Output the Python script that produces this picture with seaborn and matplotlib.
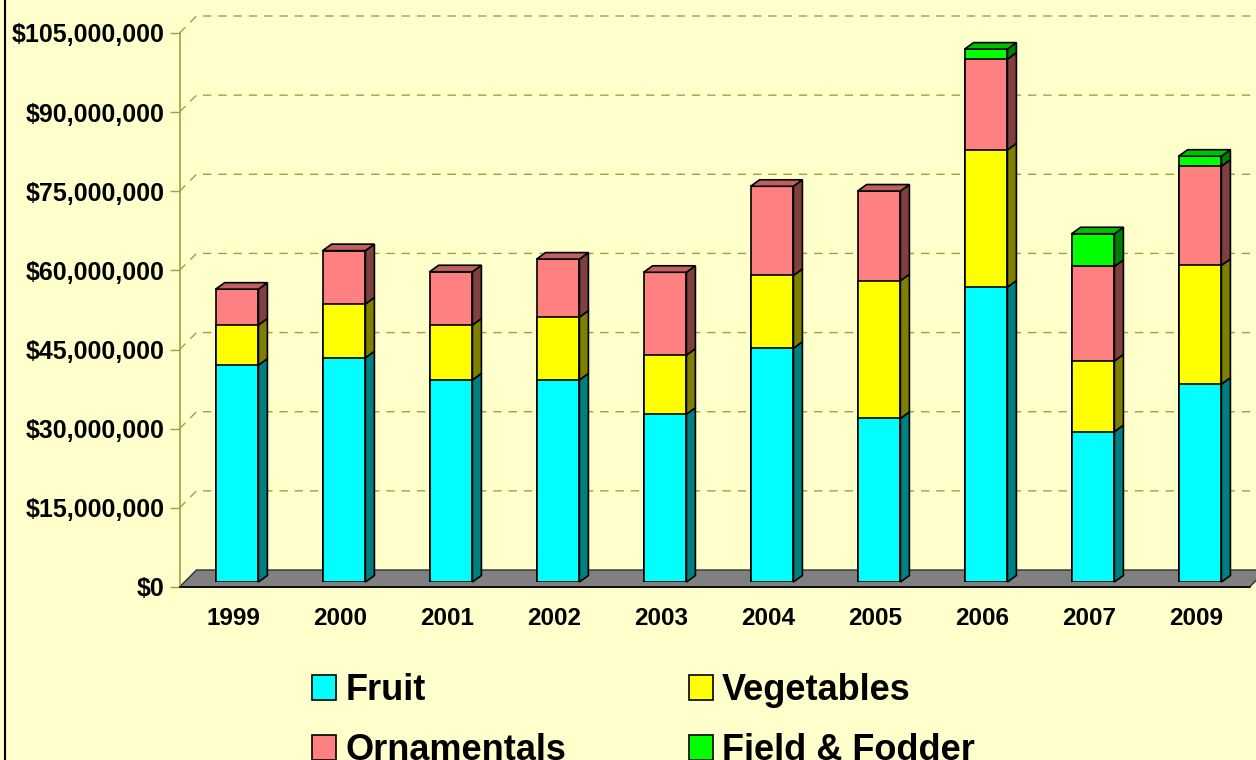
import numpy as np
import pandas as pd
import matplotlib.pyplot as plt
import seaborn as sns
from matplotlib.patches import Polygon, Patch
from matplotlib.lines import Line2D

# values in millions of dollars
years = ['1999', '2000', '2001', '2002', '2003', '2004', '2005', '2006', '2007', '2009']
fruit = [41.1, 42.5, 38.3, 38.3, 31.8, 44.3, 31.0, 55.9, 28.5, 37.5]
vegetables = [7.6, 10.2, 10.4, 11.9, 11.2, 13.8, 26.1, 26.0, 13.4, 22.5]
ornamentals = [6.8, 10.1, 10.1, 11.0, 15.7, 16.9, 17.0, 17.2, 17.9, 18.8]
field_fodder = [0, 0, 0, 0, 0, 0, 0, 1.9, 6.2, 1.9]
series = ['Fruit', 'Vegetables', 'Ornamentals', 'Field & Fodder']
y_ticks = np.arange(0, 106, 15)

front_colors = ['#00FFFF', '#FFFF00', '#FF8080', '#00FF00']
side_colors = ['#008080', '#808000', '#804040', '#008000']
top_colors = ['#00C0C0', '#C0C000', '#C06060', '#00C000']
bg = '#FFFFCC'
grid_col = '#A0A040'

sns.set_style('white')
plt.rcParams['font.family'] = ['Liberation Sans', 'DejaVu Sans']
plt.rcParams['font.weight'] = 'bold'
plt.rcParams['text.color'] = 'black'
plt.rcParams['xtick.labelcolor'] = 'black'
plt.rcParams['ytick.labelcolor'] = 'black'

W, H = 1256, 760
AX_W, AX_H = 1070, 554
fig = plt.figure(figsize=(W / 100, H / 100), dpi=100, facecolor=bg)


def rect(left, base):
    return [left / W, (H - base) / H, AX_W / W, AX_H / H]


# front plane holds the axes, the wall gridlines and the floor
front_left, front_base = 179.5, 587
ax_front = fig.add_axes(rect(front_left, front_base))
# bars sit a little further back
ax_bar = fig.add_axes(rect(front_left + 4, front_base - 5))
for a in (ax_front, ax_bar):
    a.patch.set_visible(False)
ax_front.set_zorder(1)
ax_bar.set_zorder(2)

xr = 10 / AX_W      # category units per pixel
yr = 105 / AX_H     # millions per pixel

ax_front.set_xlim(-0.5, 9.5)
ax_front.set_ylim(0, 105)

# wall gridlines: diagonal on the side wall, then across the back wall
dash = (0, (6, 5))
for v in y_ticks[1:]:
    ax_front.plot([-0.5, -0.5 + 17 * xr, 9.5 + 17 * xr],
                  [v, v + 17 * yr, v + 17 * yr],
                  color=grid_col, lw=1, ls=dash, clip_on=False, zorder=0)

# floor
floor = Polygon([(-0.5, 0), (9.5, 0), (9.5 + 17 * xr, 17 * yr), (-0.5 + 17 * xr, 17 * yr)],
                closed=True, fc='#808080', ec='#303030', lw=1, clip_on=False, zorder=1)
ax_front.add_patch(floor)

ax_front.set_yticks(y_ticks, labels=['${:,.0f}'.format(v * 1e6) for v in y_ticks])
ax_front.set_xticks(range(len(years)), labels=years)
ax_front.set_xticks(np.arange(-0.5, len(years)), minor=True)
ax_front.tick_params(axis='x', which='major', length=0, pad=14.5, labelsize=17.5)
ax_front.tick_params(axis='x', which='minor', length=6.5, width=1, color='#555555')
ax_front.tick_params(axis='y', length=7, width=1, color=grid_col, pad=3.6, labelsize=18, left=True)
for lab in ax_front.get_xticklabels() + ax_front.get_yticklabels():
    lab.set_fontweight('bold')
    lab.set_color('black')
ax_front.spines['top'].set_visible(False)
ax_front.spines['right'].set_visible(False)
ax_front.spines['left'].set_color(grid_col)
ax_front.spines['left'].set_linewidth(1.2)
ax_front.spines['bottom'].set_color('black')
ax_front.spines['bottom'].set_linewidth(1.2)

# stacked bars: draw cumulative tops from the top series down
vals = np.array([fruit, vegetables, ornamentals, field_fodder], dtype=float)
cum = vals.cumsum(axis=0)
df = pd.DataFrame({'year': years})
for k, name in enumerate(series):
    df[name] = np.where(vals[k] > 0, cum[k], np.nan)

bar_w = 0.40
for k in reversed(range(len(series))):
    sns.barplot(data=df, x='year', y=series[k], order=years, color=front_colors[k],
                saturation=1, width=bar_w, edgecolor='black', linewidth=1.2,
                errorbar=None, ax=ax_bar, zorder=2)

# 3d sides and tops
ddx, ddy = 9 * xr, 6.5 * yr
half = bar_w / 2
for i in range(len(years)):
    bottom = 0
    top_k = max(k for k in range(len(series)) if vals[k, i] > 0)
    for k in range(len(series)):
        v = vals[k, i]
        if v <= 0:
            continue
        b, t = bottom, bottom + v
        x1 = i + half
        ax_bar.add_patch(Polygon([(x1, b), (x1 + ddx, b + ddy), (x1 + ddx, t + ddy), (x1, t)],
                                 closed=True, fc=side_colors[k], ec='black', lw=1.2,
                                 clip_on=False, zorder=3))
        if k == top_k:
            x0 = i - half
            ax_bar.add_patch(Polygon([(x0, t), (x1, t), (x1 + ddx, t + ddy), (x0 + ddx, t + ddy)],
                                     closed=True, fc=top_colors[k], ec='black', lw=1.2,
                                     clip_on=False, zorder=3))
        bottom = t

ax_bar.set_xlim(-0.5, 9.5)
ax_bar.set_ylim(0, 105)
ax_bar.axis('off')

# legend
order = [0, 2, 1, 3]
handles = [Patch(fc=front_colors[k], ec='black', lw=1.2, label=series[k]) for k in order]
fig.legend(handles=handles, ncol=2, loc='upper left',
           bbox_to_anchor=(312 / W, (H - 673) / H), frameon=False,
           prop={'weight': 'bold', 'size': 26}, handlelength=0.67, handleheight=0.67,
           handletextpad=0.25, columnspacing=3.4, labelspacing=0.7,
           borderpad=0, borderaxespad=0)

fig.add_artist(Line2D([5 / W, 5 / W], [0, 1], transform=fig.transFigure, color='black', lw=1.5))

fig.savefig('out.png', dpi=100, facecolor=bg)
